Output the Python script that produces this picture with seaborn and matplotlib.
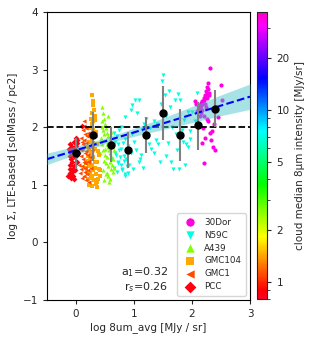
import numpy as np
import matplotlib
matplotlib.use("Agg")
import matplotlib.pyplot as plt
import seaborn as sns
from matplotlib.colors import LogNorm
from matplotlib.cm import ScalarMappable
from matplotlib.ticker import NullFormatter

sns.set_style("ticks")
plt.rcParams['font.family'] = ['DejaVu Sans']

# clouds: name, marker, median 8um intensity (MJy/sr)
clouds = ['30Dor', 'N59C', 'A439', 'GMC104', 'GMC1', 'PCC']
markers = ['o', 'v', '^', 's', '<', 'D']
i8_median = [33.0, 7.0, 2.6, 1.45, 1.1, 0.86]

# scatter points (log 8um, log Sigma)
dor_x = [2.31, 2.28, 2.26, 2.24, 2.22, 2.20, 2.18, 2.16, 2.14, 2.12,
         2.27, 2.25, 2.23, 2.21, 2.19, 2.17, 2.15, 2.13, 2.11, 2.09,
         2.29, 2.26, 2.22, 2.18, 2.30, 2.24, 2.20, 2.16, 2.07, 2.05,
         2.45, 2.50, 2.52, 2.34, 2.36, 2.31, 2.22, 2.19, 2.17, 2.33,
         2.21, 2.28, 2.38, 2.26, 2.13, 2.40]
dor_y = [3.02, 2.76, 2.70, 2.62, 2.55, 2.50, 2.45, 2.42, 2.38, 2.35,
         2.66, 2.58, 2.52, 2.47, 2.43, 2.40, 2.36, 2.33, 2.30, 2.28,
         2.60, 2.50, 2.40, 2.30, 2.55, 2.35, 2.20, 2.25, 2.40, 2.45,
         2.17, 2.73, 2.47, 1.94, 1.65, 1.90, 1.82, 1.98, 1.72, 1.77,
         1.37, 2.10, 2.05, 2.15, 2.20, 1.60]

n59c_x = [0.62, 0.65, 0.68, 0.70, 0.72, 0.75, 0.78, 0.80, 0.82, 0.85,
          0.64, 0.67, 0.70, 0.73, 0.76, 0.79, 0.83, 0.86, 0.88, 0.90,
          0.66, 0.69, 0.72, 0.77, 0.81, 0.84, 0.87, 0.92, 0.95, 0.98,
          0.74, 0.78, 0.85, 0.90, 0.96, 1.00, 1.04, 1.08, 1.12, 1.15,
          0.97, 1.02, 1.09, 1.14, 1.18, 1.22, 1.26, 1.30, 1.34, 1.38,
          0.84, 0.94, 1.05, 1.20, 1.28, 1.35, 1.42, 1.46, 1.50, 1.48,
          1.53, 1.56, 1.60, 1.62, 1.66, 1.70, 1.72, 1.76, 1.80, 1.84,
          1.55, 1.64, 1.74, 1.78, 1.82, 1.86, 1.90, 1.93, 1.97, 2.00,
          1.88, 1.93, 1.96, 2.05, 2.09, 1.45, 1.58, 1.68, 1.40, 1.10]
n59c_y = [1.45, 1.30, 1.55, 1.22, 1.40, 1.60, 1.35, 1.25, 1.50, 1.18,
          1.65, 1.75, 1.85, 1.70, 1.48, 1.28, 1.42, 1.58, 1.32, 1.20,
          1.90, 1.52, 1.38, 1.62, 1.72, 1.15, 1.45, 1.35, 1.55, 1.28,
          1.95, 2.00, 1.80, 1.68, 1.88, 1.75, 1.60, 1.40, 1.52, 1.30,
          2.38, 2.47, 2.47, 1.95, 2.05, 1.85, 1.70, 1.62, 2.10, 1.78,
          2.17, 2.30, 2.25, 2.15, 1.98, 1.55, 1.70, 2.40, 2.90, 2.81,
          2.55, 2.20, 2.62, 2.35, 2.00, 2.47, 1.88, 2.57, 2.47, 1.75,
          1.50, 1.40, 1.60, 1.28, 1.95, 2.12, 1.70, 1.65, 1.94, 2.26,
          1.34, 2.26, 1.80, 2.10, 2.59, 1.40, 1.72, 1.28, 2.05, 1.45]

a439_x = [0.44, 0.46, 0.48, 0.50, 0.52, 0.54, 0.56, 0.58, 0.60, 0.62,
          0.45, 0.47, 0.49, 0.51, 0.53, 0.55, 0.57, 0.59, 0.61, 0.63,
          0.43, 0.46, 0.50, 0.54, 0.58, 0.62, 0.65, 0.44, 0.48, 0.52,
          0.56, 0.60, 0.64, 0.47, 0.51, 0.55, 0.59, 0.49, 0.53, 0.57,
          0.42, 0.66, 0.50, 0.55, 0.45, 0.60]
a439_y = [2.35, 2.25, 2.15, 2.05, 1.98, 1.90, 1.85, 1.80, 1.72, 1.68,
          2.10, 1.95, 1.88, 1.78, 1.70, 1.65, 1.60, 1.55, 1.50, 1.45,
          1.82, 1.60, 1.52, 1.48, 1.40, 1.35, 1.30, 1.70, 1.42, 1.38,
          1.32, 1.28, 1.22, 1.25, 1.18, 1.15, 1.10, 1.08, 1.20, 1.05,
          1.55, 1.60, 1.62, 2.20, 2.00, 1.92]

gmc104_x = [0.28, 0.30, 0.29, 0.31, 0.27, 0.32, 0.26, 0.30, 0.28, 0.33,
            0.25, 0.29, 0.31, 0.34, 0.24, 0.27, 0.35, 0.22, 0.30, 0.36,
            0.20, 0.23, 0.26, 0.33, 0.38, 0.21, 0.25, 0.29, 0.37, 0.40,
            0.18, 0.22, 0.28, 0.32, 0.39, 0.19, 0.24, 0.30, 0.35, 0.41,
            0.20, 0.26, 0.31, 0.36, 0.23, 0.27, 0.34, 0.38, 0.21, 0.29,
            0.33, 0.25, 0.17, 0.42, 0.36, 0.28]
gmc104_y = [2.55, 2.45, 2.38, 2.30, 2.25, 2.20, 2.15, 2.10, 2.05, 2.12,
            1.98, 1.95, 1.90, 1.92, 1.85, 1.80, 1.84, 1.75, 1.72, 1.70,
            1.65, 1.60, 1.55, 1.62, 1.58, 1.50, 1.45, 1.48, 1.40, 1.52,
            1.38, 1.32, 1.35, 1.30, 1.28, 1.22, 1.20, 1.25, 1.18, 1.15,
            1.10, 1.12, 1.08, 1.05, 1.00, 0.98, 1.02, 1.10, 1.42, 1.65,
            1.40, 1.75, 1.30, 1.25, 0.96, 1.15]

gmc1_x = [0.06, 0.08, 0.10, 0.12, 0.14, 0.16, 0.18, 0.20, 0.22, 0.24,
          0.07, 0.09, 0.11, 0.13, 0.15, 0.17, 0.19, 0.21, 0.23, 0.25,
          0.08, 0.10, 0.12, 0.14, 0.16, 0.18, 0.20, 0.09, 0.13, 0.17,
          0.21, 0.11, 0.15, 0.19, 0.26, 0.28, 0.12, 0.16, 0.20, 0.14]
gmc1_y = [1.35, 1.50, 1.62, 1.45, 1.78, 1.30, 1.58, 1.90, 1.42, 1.68,
          1.20, 1.28, 1.12, 1.40, 1.55, 1.72, 1.85, 1.25, 1.05, 1.48,
          1.60, 1.75, 1.95, 1.15, 1.38, 1.08, 1.65, 1.82, 2.02, 1.98,
          1.52, 1.32, 1.88, 1.18, 1.30, 1.60, 1.70, 1.22, 1.40, 2.10]

pcc_x = [-0.12, -0.10, -0.08, -0.06, -0.04, -0.02, 0.00, 0.02, -0.11, -0.09,
         -0.07, -0.05, -0.03, -0.01, 0.01, -0.10, -0.06, -0.04, -0.08, -0.02,
         0.03, -0.13, -0.11, -0.09, -0.07, -0.05, -0.03, -0.10, -0.06, -0.04,
         0.10, 0.00, -0.08, 0.02]
pcc_y = [1.62, 1.70, 1.58, 1.66, 1.74, 1.55, 1.68, 1.78, 1.50, 1.45,
         1.64, 1.52, 1.60, 1.48, 1.72, 1.28, 1.22, 1.30, 1.18, 1.25,
         1.55, 1.15, 1.20, 1.12, 1.25, 1.16, 1.10, 1.35, 1.40, 1.32,
         2.02, 1.82, 1.56, 1.40]

xs = [dor_x, n59c_x, a439_x, gmc104_x, gmc1_x, pcc_x]
ys = [dor_y, n59c_y, a439_y, gmc104_y, gmc1_y, pcc_y]

# binned medians with 16-84 percentile range
bin_x = [0.0, 0.3, 0.6, 0.9, 1.2, 1.5, 1.8, 2.1, 2.4]
bin_y = [1.55, 1.86, 1.69, 1.61, 1.86, 2.24, 1.86, 2.03, 2.31]
bin_lo = [1.28, 1.42, 1.39, 1.30, 1.55, 1.77, 1.42, 1.61, 2.00]
bin_hi = [1.82, 2.27, 2.00, 1.91, 2.17, 2.71, 2.31, 2.43, 2.64]

# linear fit and its confidence band
fit_x = [-0.5, 3.0]
fit_y = [1.445, 2.53]
band_x = [-0.5, 0.0, 0.5, 1.0, 1.5, 2.0, 2.5, 3.0]
band_lo = [1.35, 1.53, 1.71, 1.84, 1.96, 2.08, 2.20, 2.31]
band_hi = [1.55, 1.67, 1.81, 1.98, 2.16, 2.36, 2.56, 2.75]

norm = LogNorm(vmin=0.8, vmax=37)
cmap = plt.get_cmap('gist_rainbow')

fig = plt.figure(figsize=(3.11, 3.41), dpi=100)
ax = fig.add_axes([0.151, 0.12, 0.653, 0.845])

for name, m, val, x, y in zip(clouds, markers, i8_median, xs, ys):
    sns.scatterplot(x=x, y=y, marker=m, color=cmap(norm(val)), s=9,
                    linewidth=0, ax=ax, label=name, zorder=2)

ax.axhline(2, color='black', ls='--', lw=1.3, zorder=3)
ax.fill_between(band_x, band_lo, band_hi, color='#3cc3c8', alpha=0.45,
                linewidth=0, zorder=3)
sns.lineplot(x=fit_x, y=fit_y, color='blue', ls='--', lw=1.5, ax=ax, zorder=4)

bin_y_arr = np.array(bin_y)
yerr = [bin_y_arr - np.array(bin_lo), np.array(bin_hi) - bin_y_arr]
ax.errorbar(bin_x, bin_y, yerr=yerr, fmt='o', color='black', ms=5,
            ecolor='grey', elinewidth=1.5, capsize=0, zorder=5)

ax.set_xlim(-0.5, 3)
ax.set_ylim(-1, 4)
ax.set_xticks([0, 1, 2, 3])
ax.set_yticks([-1, 0, 1, 2, 3, 4])
ax.tick_params(labelsize=7.5, length=3, width=0.8)
ax.set_xlabel('log 8um_avg [MJy / sr]', fontsize=7.5, labelpad=2)
ax.set_ylabel('log Σ, LTE-based [solMass / pc2]', fontsize=7.5, labelpad=3)
for sp in ax.spines.values():
    sp.set_color('black')
    sp.set_linewidth(0.8)

ax.text(0.595, 0.02, 'a$_1$=0.32\nr$_s$=0.26', transform=ax.transAxes,
        ha='right', va='bottom', multialignment='right', fontsize=8)

leg = ax.legend(loc='lower right', fontsize=6.3, markerscale=2.0,
                frameon=True, handletextpad=0.6, borderpad=0.5,
                labelspacing=0.45)
leg.get_frame().set_edgecolor('#cccccc')

cax = fig.add_axes([0.826, 0.123, 0.034, 0.842])
sm = ScalarMappable(norm=norm, cmap=cmap)
cb = fig.colorbar(sm, cax=cax)
cb.set_ticks([1, 2, 5, 10, 20])
cb.set_ticklabels(['1', '2', '5', '10', '20'])
cb.ax.yaxis.set_minor_formatter(NullFormatter())
cb.ax.tick_params(labelsize=7.5, length=3)
cb.ax.tick_params(which='minor', length=1.8)
cb.outline.set_linewidth(0.8)
cb.set_label('cloud median 8μm intensity [MJy/sr]', fontsize=7.5, labelpad=4)

fig.savefig('out.png', dpi=100)
